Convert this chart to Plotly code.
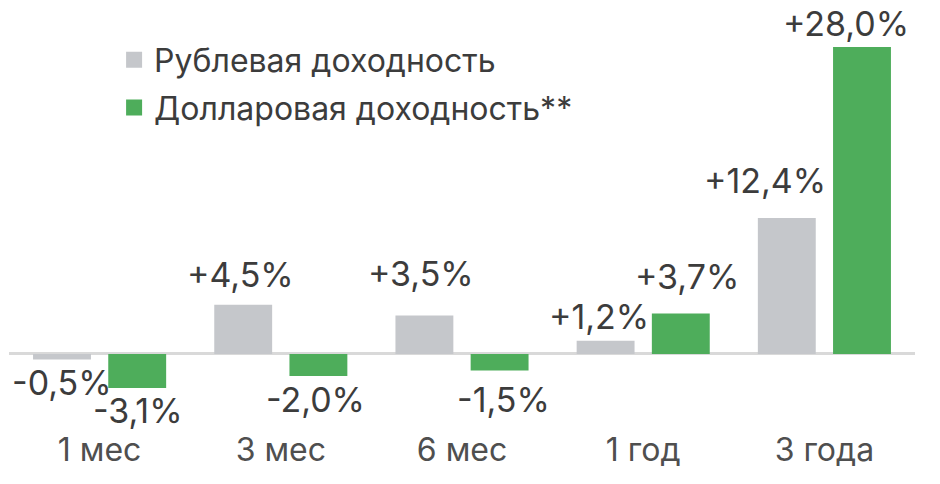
import plotly.graph_objects as go

categories = ["1 мес", "3 мес", "6 мес", "1 год", "3 года"]
rub_values = [-0.5, 4.5, 3.5, 1.2, 12.4]
usd_values = [-3.1, -2.0, -1.5, 3.7, 28.0]
series_names = ["Рублевая доходность", "Долларовая доходность**"]
colors = ["#C5C7CB", "#4EAD5B"]

# label placement style (pixel nudges of each value label, relative to bar end)
bar_offset_px = [-37, 37]
label_dx = [[-1, -3.5, -4, -7, -22], [1, -2.5, 4, 6.5, -15.5]]
label_dy = [[-23, 30, 42, 24, 38], [-22.5, -24, -29, 36.5, 23.5]]

def fmt(v):
    return f"{v:+.1f}%".replace(".", ",")

FONT = "Inter"
TXT = "#3C3C3C"
FS = 32
VFS = 34

fig = go.Figure()
for i, (vals, name, col) in enumerate(zip([rub_values, usd_values], series_names, colors)):
    fig.add_trace(go.Bar(
        x=categories, y=vals, name=name, showlegend=False,
        marker=dict(color=col, line=dict(width=0)),
        hoverinfo="skip",
    ))
# legend entries with square markers
for i, (name, col) in enumerate(zip(series_names, colors)):
    fig.add_trace(go.Scatter(
        x=[None], y=[None], mode="markers", name=name,
        marker=dict(symbol="square", size=18, color=col),
        showlegend=True, legendgroup=f"g{i}",
    ))

annotations = []
for i, vals in enumerate([rub_values, usd_values]):
    for j, (c, v) in enumerate(zip(categories, vals)):
        annotations.append(dict(
            x=c, y=v, xref="x", yref="y", text=fmt(v), showarrow=False,
            xanchor="center", yanchor="middle",
            xshift=bar_offset_px[i] + label_dx[i][j], yshift=label_dy[i][j],
            font=dict(family=FONT, size=VFS, color=TXT),
        ))

fig.update_layout(
    width=940, height=484,
    margin=dict(l=1, r=33, t=32, b=68, autoexpand=False),
    paper_bgcolor="white", plot_bgcolor="white",
    barmode="group", bargap=0.17, bargroupgap=0.23,
    font=dict(family=FONT, size=FS, color=TXT),
    annotations=annotations,
    legend=dict(x=0.116, y=1.0195, xanchor="left", yanchor="top",
                font=dict(family=FONT, size=FS, color=TXT),
                bgcolor="rgba(0,0,0,0)", tracegroupgap=3,
                traceorder="grouped"),
    xaxis=dict(showgrid=False, showline=False, ticks="", automargin=False,
               ticklabelstandoff=4,
               tickfont=dict(family=FONT, size=FS, color="#4F4F4F")),
    yaxis=dict(range=[-6.39, 28.65], showgrid=False, showticklabels=False,
               automargin=False,
               zeroline=True, zerolinecolor="#D9D9D9", zerolinewidth=3),
)
fig.write_html("out.html")
